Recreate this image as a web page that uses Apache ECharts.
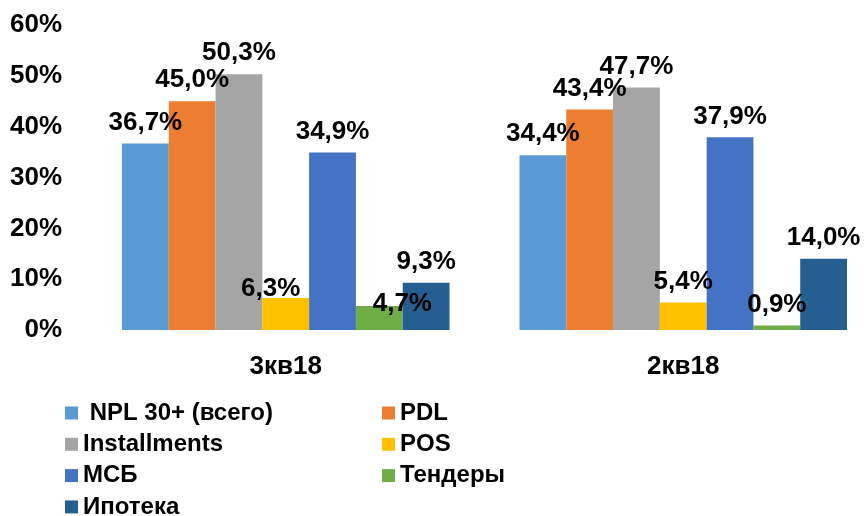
<!DOCTYPE html>
<html>
<head>
<meta charset="utf-8">
<script src="https://cdn.jsdelivr.net/npm/echarts@6/dist/echarts.min.js"></script>
<style>html,body{margin:0;padding:0;background:#fff;overflow:hidden;width:864px;height:516px}#c{width:900px;height:516px}</style>
</head>
<body>
<div id="c"></div>
<script>
const categories = ['3кв18', '2кв18'];
const seriesNames = [' NPL 30+ (всего)', 'PDL', 'Installments', 'POS', 'МСБ', 'Тендеры', 'Ипотека'];
const npl = [36.7, 34.4];
const pdl = [45.0, 43.4];
const installments = [50.3, 47.7];
const pos = [6.3, 5.4];
const msb = [34.9, 37.9];
const tenders = [4.7, 0.9];
const mortgage = [9.3, 14.0];
const yTicks = [0, 10, 20, 30, 40, 50, 60];

const values = [npl, pdl, installments, pos, msb, tenders, mortgage];
const colors = ['#5B9BD5', '#ED7D31', '#A5A5A5', '#FFC000', '#4472C4', '#70AD47', '#255E91'];
// label offsets per series per category (style)
const labelOffsets = {
  3: [[-15, 12], [0, 0]],
  5: [[23, 19], [0, 0]]
};
const FONT = "'Liberation Sans', Arial, sans-serif";

const series = values.map((vals, si) => ({
  name: seriesNames[si],
  type: 'bar',
  barGap: '0%',
  barCategoryGap: '17.6%',
  itemStyle: { color: colors[si] },
  data: vals.map((v, ci) => {
    const d = { value: v };
    if (labelOffsets[si]) d.label = { offset: labelOffsets[si][ci] };
    return d;
  }),
  label: {
    show: true,
    position: 'top',
    distance: 8,
    fontFamily: FONT,
    fontWeight: 'bold',
    fontSize: 26,
    color: '#000',
    formatter: p => p.value.toFixed(1).replace('.', ',') + '%'
  }
}));

const legendText = { fontFamily: FONT, fontWeight: 'bold', fontSize: 24, lineHeight: 24, color: '#000' };
const chart = echarts.init(document.getElementById('c'), null, { renderer: 'canvas' });
chart.setOption({
  animation: false,
  backgroundColor: '#fff',
  grid: { left: 87, top: 25, width: 795, height: 305, containLabel: false },
  legend: [
    {
      orient: 'vertical', left: 65, top: 401, height: 140, padding: 0,
      itemWidth: 13, itemHeight: 13, itemGap: 7.3,
      icon: 'rect',
      data: [seriesNames[0], seriesNames[2], seriesNames[4], seriesNames[6]],
      textStyle: legendText
    },
    {
      orient: 'vertical', left: 382, top: 401, height: 140, padding: 0,
      itemWidth: 13, itemHeight: 13, itemGap: 7.3,
      icon: 'rect',
      data: [seriesNames[1], seriesNames[3], seriesNames[5]],
      textStyle: legendText
    }
  ],
  xAxis: {
    type: 'category',
    data: categories,
    axisLine: { show: false },
    axisTick: { show: false },
    axisLabel: { margin: 24, fontFamily: FONT, fontWeight: 'bold', fontSize: 26, color: '#000' }
  },
  yAxis: {
    type: 'value',
    min: yTicks[0],
    max: yTicks[yTicks.length - 1],
    interval: yTicks[1] - yTicks[0],
    splitLine: { show: false },
    axisLine: { show: false },
    axisTick: { show: false },
    axisLabel: { margin: 25, fontFamily: FONT, fontWeight: 'bold', fontSize: 26, color: '#000', formatter: '{value}%' }
  },
  series: series
});
</script>
</body>
</html>
